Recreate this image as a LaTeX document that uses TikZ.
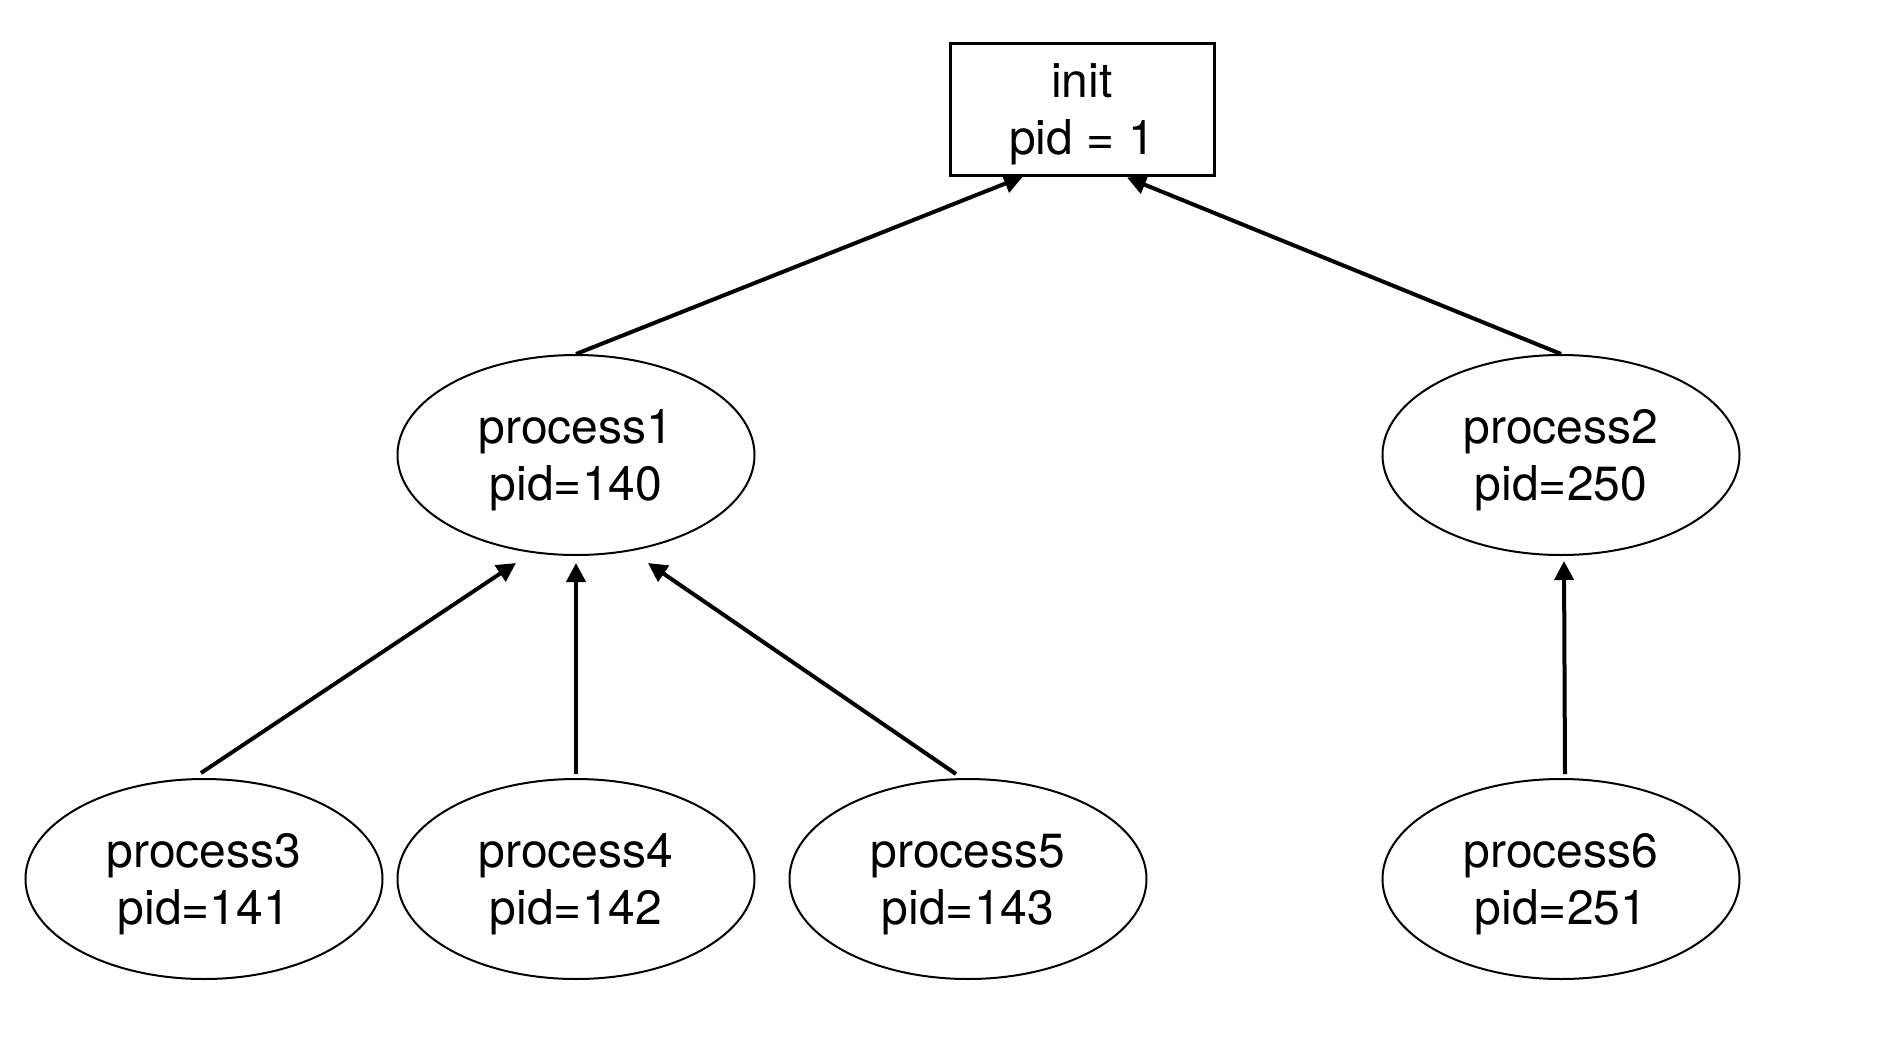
\documentclass[tikz,border=0pt]{standalone}
\usepackage{fontspec}
\setmainfont{TeX Gyre Heros}
\usetikzlibrary{shapes.geometric,arrows.meta}
\begin{document}
\begin{tikzpicture}[x=0.5pt,y=-0.5pt,
  every node/.style={align=center,font=\fontsize{24pt}{28.5pt}\selectfont,inner sep=0pt,text depth=0pt},
  proc/.style={ellipse,draw,line width=1pt,minimum width=178.5pt,minimum height=100pt},
  rootbox/.style={rectangle,draw,line width=1.5pt,minimum width=132pt,minimum height=66pt},
  link/.style={line width=2pt,-{Triangle[length=9.5pt,width=9.5pt]}}]
  \useasboundingbox (0,0) rectangle (1892,1050);

  % root process
  \node[rootbox] (init) at (1082,109) {init\\pid = 1};

  % first generation
  \node[proc] (p1) at (576,455) {process1\\pid=140};
  \node[proc] (p2) at (1561,455) {process2\\pid=250};

  % second generation
  \node[proc] (p3) at (204,879) {process3\\pid=141};
  \node[proc] (p4) at (576,879) {process4\\pid=142};
  \node[proc] (p5) at (968,879) {process5\\pid=143};
  \node[proc] (p6) at (1561,879) {process6\\pid=251};

  % parent links
  \draw[link] (p1.north) -- ([shift={(-59,0)}]init.south);
  \draw[link] (p2.north) -- ([shift={(45,1)}]init.south);
  \draw[link] ([shift={(-3,-5)}]p3.north) -- ([shift={(-60,7)}]p1.south);
  \draw[link] ([shift={(0,-4)}]p4.north) -- ([shift={(0,7)}]p1.south);
  \draw[link] ([shift={(-12,-4)}]p5.north) -- ([shift={(72,7)}]p1.south);
  \draw[link] ([shift={(4,-4)}]p6.north) -- ([shift={(3,5)}]p2.south);
\end{tikzpicture}
\end{document}
